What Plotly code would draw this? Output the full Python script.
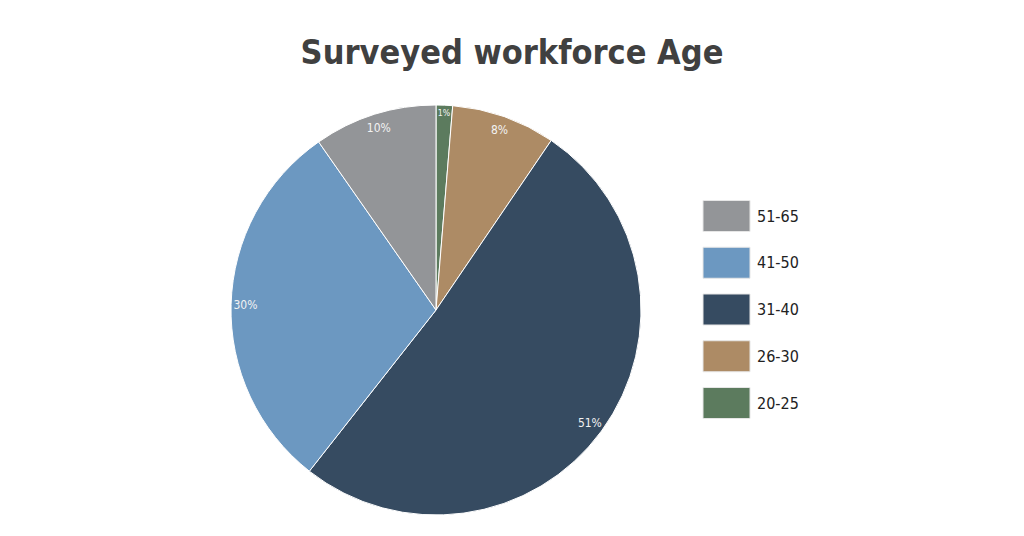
import plotly.graph_objects as go

# dados
faixas = ["20-25", "26-30", "31-40", "41-50", "51-65"]
valores = [1.3, 8.2, 51.1, 29.7, 9.7]
cores = ["#5C7B5E", "#AD8B65", "#364B61", "#6C98C1", "#939598"]

W, H = 1024, 536
OFF = 8  # margem padrao do body na pagina
fonte = "DejaVu Sans Condensed, Roboto, sans-serif"


def px_x(v):
    return (v - OFF) / W


def px_y(v):
    return 1 - (v - OFF) / H


# dominio da pizza (centro ~ 436,310, raio ~205)
dom = dict(x=[px_x(231), px_x(641)], y=[px_y(515), px_y(105)])

fig = go.Figure()

# pizza principal, sem texto
fig.add_trace(go.Pie(
    labels=faixas, values=valores, sort=False, direction="clockwise",
    marker=dict(colors=cores, line=dict(color="white", width=1)),
    textinfo="none", hoverinfo="label+percent", domain=dom, showlegend=False,
))

# anel transparente so para colocar os rotulos perto da borda
fig.add_trace(go.Pie(
    labels=faixas, values=valores, sort=False, direction="clockwise", hole=0.86,
    marker=dict(colors=["rgba(0,0,0,0)"] * len(faixas), line=dict(width=0)),
    texttemplate="%{percent:.0%}", textposition="inside",
    insidetextorientation="horizontal",
    textfont=dict(family=fonte, size=12, color="#F2F2F2"),
    hoverinfo="skip", domain=dom, showlegend=False,
))

# legenda feita a mao (ordem invertida, 51-65 no topo)
for i, (f, c) in enumerate(zip(faixas[::-1], cores[::-1])):
    yc = 216 + i * 46.75
    fig.add_shape(type="rect", xref="paper", yref="paper",
                  x0=px_x(703), x1=px_x(750), y0=px_y(yc + 15.5), y1=px_y(yc - 15.5),
                  fillcolor=c, line=dict(color="#E6E6E6", width=1))
    fig.add_annotation(x=px_x(755), y=px_y(yc), xref="paper", yref="paper",
                       text=f, showarrow=False, xanchor="left", yanchor="middle",
                       font=dict(family=fonte, size=16, color="#222222"))

fig.update_layout(
    title=dict(text="<b>Surveyed workforce Age</b>", x=px_x(512), xanchor="center",
               y=px_y(52), yanchor="middle",
               font=dict(family=fonte, size=34, color="#404040")),
    width=W, height=H, margin=dict(l=0, r=0, t=0, b=0),
    paper_bgcolor="white", plot_bgcolor="white",
)

fig.write_html("out.html")
